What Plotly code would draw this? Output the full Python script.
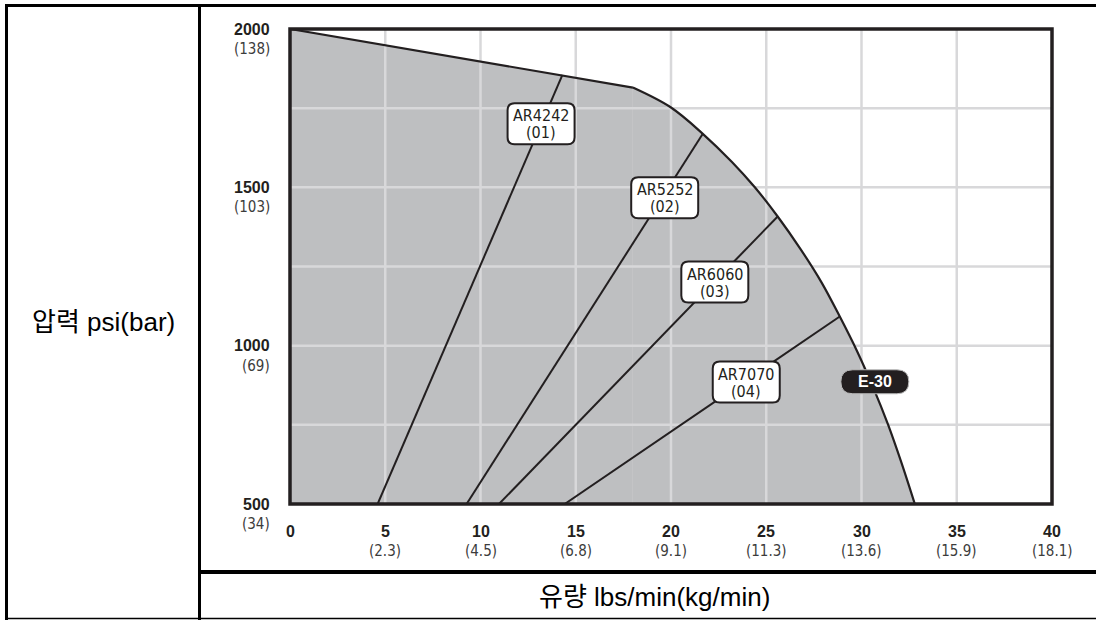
import plotly.graph_objects as go

# ---------------- data ----------------
x_ticks = [0, 5, 10, 15, 20, 25, 30, 35, 40]
x_tick_labels = ["0", "5", "10", "15", "20", "25", "30", "35", "40"]
x_tick_sub = ["", "(2.3)", "(4.5)", "(6.8)", "(9.1)", "(11.3)", "(13.6)", "(15.9)", "(18.1)"]
y_ticks = [500, 1000, 1500, 2000]
y_tick_labels = ["500", "1000", "1500", "2000"]
y_tick_sub = ["(34)", "(69)", "(103)", "(138)"]
x_grid = [5, 10, 15, 20, 25, 30, 35]
y_grid = [750, 1000, 1250, 1500, 1750]

# straight upper segment of the E-30 envelope, then the curved part
envelope_top_flow = [0, 18.0]
envelope_top_pressure = [2000, 1815]
envelope_curve_flow = [18.0, 20.0, 21.67, 23.2, 24.4, 25.6, 26.8, 27.9, 28.86, 29.75, 30.6, 31.4, 32.1, 32.8]
envelope_curve_pressure = [1815, 1752, 1669, 1580, 1500, 1408, 1305, 1200, 1092, 985, 870, 750, 630, 500]

valve_names = ["AR4242", "AR5252", "AR6060", "AR7070"]
valve_codes = ["(01)", "(02)", "(03)", "(04)"]
valve_flow_start = [4.6, 9.27, 10.97, 14.42]
valve_pressure_start = [500, 500, 500, 500]
valve_flow_end = [14.3, 21.67, 25.6, 28.86]
valve_pressure_end = [1855, 1669, 1408, 1092]
curve_name = "E-30"

x_title = "유량 lbs/min(kg/min)"
y_title = "압력 psi(bar)"

# ---------------- layout / style ----------------
W, H = 1096, 620
ML, MR, MT, MB = 290, 44, 29, 116
PW, PH = W - ML - MR, H - MT - MB
X_RANGE = [0, 40]
Y_RANGE = [500, 2000]

INK = "#231f20"
FILL = "#bebfc1"
GRID = "#d8d8da"
SUB = "#3c3c3c"
BOLD_FONT = "Liberation Sans, Arial, sans-serif"
NARROW_FONT = "Liberation Sans Narrow, DejaVu Sans Condensed, Liberation Sans, sans-serif"
TITLE_FONT = "Liberation Sans, Noto Sans CJK KR, sans-serif"

label_anchor = [(13.18, 1701), (19.67, 1467), (22.3, 1201), (23.95, 885)]
e30_anchor = (30.7, 886)


def px_x(px):
    return (px - ML) / PW


def px_y(py):
    return (MT + PH - py) / PH


def rrect(w, h, r):
    x0, x1, y0, y1 = -w / 2, w / 2, -h / 2, h / 2
    return (f"M{x0 + r},{y0} L{x1 - r},{y0} Q{x1},{y0} {x1},{y0 + r} "
            f"L{x1},{y1 - r} Q{x1},{y1} {x1 - r},{y1} L{x0 + r},{y1} "
            f"Q{x0},{y1} {x0},{y1 - r} L{x0},{y0 + r} Q{x0},{y0} {x0 + r},{y0} Z")


fig = go.Figure()

# filled envelope (fill down below the visible range)
fig.add_trace(go.Scatter(x=envelope_top_flow, y=envelope_top_pressure, mode="lines",
                         fill="tozeroy", fillcolor=FILL, line=dict(width=0, color=FILL),
                         hoverinfo="skip", showlegend=False))
fig.add_trace(go.Scatter(x=envelope_curve_flow, y=envelope_curve_pressure, mode="lines",
                         fill="tozeroy", fillcolor=FILL,
                         line=dict(width=0.5, color=FILL, shape="spline", smoothing=1),
                         hoverinfo="skip", showlegend=False))

# grid above the fill
gx, gy = [], []
for v in x_grid:
    gx += [v, v, None]
    gy += [Y_RANGE[0], Y_RANGE[1], None]
for v in y_grid:
    gx += [X_RANGE[0], X_RANGE[1], None]
    gy += [v, v, None]
fig.add_trace(go.Scatter(x=gx, y=gy, mode="lines", line=dict(color=GRID, width=2.5),
                         hoverinfo="skip", showlegend=False))

# envelope outline
fig.add_trace(go.Scatter(x=envelope_top_flow, y=envelope_top_pressure, mode="lines",
                         line=dict(color=INK, width=2.2), hoverinfo="skip", showlegend=False))
fig.add_trace(go.Scatter(x=envelope_curve_flow, y=envelope_curve_pressure, mode="lines",
                         line=dict(color=INK, width=2.2, shape="spline", smoothing=1),
                         hoverinfo="skip", showlegend=False))

# valve lines
for i in range(len(valve_names)):
    fig.add_trace(go.Scatter(x=[valve_flow_start[i], valve_flow_end[i]],
                             y=[valve_pressure_start[i], valve_pressure_end[i]],
                             mode="lines", line=dict(color=INK, width=2),
                             hoverinfo="skip", showlegend=False))

shapes = []
annotations = []

# plot border
shapes.append(dict(type="rect", xref="paper", yref="paper", x0=0, x1=1, y0=0, y1=1,
                   line=dict(color=INK, width=3.5), layer="above"))


# outer table frame
def hline(py, x0, x1, w):
    shapes.append(dict(type="line", xref="paper", yref="paper", x0=px_x(x0), x1=px_x(x1),
                       y0=px_y(py), y1=px_y(py), line=dict(color="black", width=w), layer="above"))


def vline(px, y0, y1, w):
    shapes.append(dict(type="line", xref="paper", yref="paper", x0=px_x(px), x1=px_x(px),
                       y0=px_y(y0), y1=px_y(y1), line=dict(color="black", width=w), layer="above"))


hline(5.5, 5, 1100, 3)
vline(6.5, 4, 622, 3)
vline(199.5, 4, 622, 3)
hline(572, 198, 1100, 4)
hline(618.5, 5, 1100, 1.5)

# valve label boxes
for i, (ax, ay) in enumerate(label_anchor):
    shapes.append(dict(type="path", xref="x", yref="y", xsizemode="pixel", ysizemode="pixel",
                       xanchor=ax, yanchor=ay, path=rrect(67, 41, 7), fillcolor="white",
                       line=dict(color=INK, width=2), layer="above"))
    annotations.append(dict(x=ax, y=ay, xref="x", yref="y", text=valve_names[i], showarrow=False,
                            xanchor="center", yanchor="middle", yshift=8,
                            font=dict(family=NARROW_FONT, size=16, color=INK)))
    annotations.append(dict(x=ax, y=ay, xref="x", yref="y", text=valve_codes[i], showarrow=False,
                            xanchor="center", yanchor="middle", yshift=-9,
                            font=dict(family=NARROW_FONT, size=16, color=INK)))

# E-30 pill
shapes.append(dict(type="path", xref="x", yref="y", xsizemode="pixel", ysizemode="pixel",
                   xanchor=e30_anchor[0], yanchor=e30_anchor[1], path=rrect(68, 24, 12),
                   fillcolor=INK, line=dict(color="#bdbdbd", width=1), layer="above"))
annotations.append(dict(x=e30_anchor[0], y=e30_anchor[1], xref="x", yref="y",
                        text="<b>" + curve_name + "</b>", showarrow=False,
                        xanchor="center", yanchor="middle",
                        font=dict(family=BOLD_FONT, size=16, color="white")))

# x tick labels
for v, lab, sub in zip(x_ticks, x_tick_labels, x_tick_sub):
    annotations.append(dict(x=v, y=0, xref="x", yref="paper", text="<b>" + lab + "</b>",
                            showarrow=False, xanchor="center", yanchor="middle", yshift=-27,
                            font=dict(family=BOLD_FONT, size=16, color=INK)))
    if sub:
        annotations.append(dict(x=v, y=0, xref="x", yref="paper", text=sub,
                                showarrow=False, xanchor="center", yanchor="middle", yshift=-47,
                                font=dict(family=NARROW_FONT, size=15, color=SUB)))

# y tick labels
for v, lab, sub in zip(y_ticks, y_tick_labels, y_tick_sub):
    annotations.append(dict(x=px_x(272), y=v, xref="paper", yref="y", text="<b>" + lab + "</b>",
                            showarrow=False, xanchor="right", yanchor="middle",
                            font=dict(family=BOLD_FONT, size=16, color=INK)))
    annotations.append(dict(x=px_x(272), y=v, xref="paper", yref="y", text=sub,
                            showarrow=False, xanchor="right", yanchor="middle", yshift=-20,
                            font=dict(family=NARROW_FONT, size=15, color=SUB)))

# axis titles
annotations.append(dict(x=px_x(103), y=px_y(322), xref="paper", yref="paper", text=y_title,
                        showarrow=False, xanchor="center", yanchor="middle",
                        font=dict(family=TITLE_FONT, size=26, color="black")))
annotations.append(dict(x=px_x(654), y=px_y(597), xref="paper", yref="paper", text=x_title,
                        showarrow=False, xanchor="center", yanchor="middle",
                        font=dict(family=TITLE_FONT, size=26, color="black")))

fig.update_layout(
    width=W, height=H,
    margin=dict(l=ML, r=MR, t=MT, b=MB, pad=0),
    paper_bgcolor="white", plot_bgcolor="white",
    xaxis=dict(range=X_RANGE, showgrid=False, zeroline=False, showticklabels=False,
               ticks="", fixedrange=True),
    yaxis=dict(range=Y_RANGE, showgrid=False, zeroline=False, showticklabels=False,
               ticks="", fixedrange=True),
    shapes=shapes, annotations=annotations, showlegend=False,
)

fig.write_html("out.html", config={"displayModeBar": False},
               post_script="document.body.style.margin='0';document.body.style.overflow='hidden';")
